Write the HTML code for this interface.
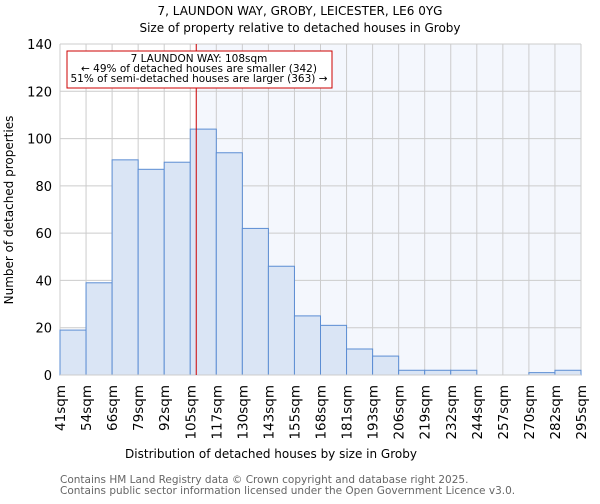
<!DOCTYPE html>
<html><head><meta charset="utf-8"><style>
body{margin:0;background:#fff;font-family:"DejaVu Sans","Liberation Sans",sans-serif}
</style></head><body>
<svg id="c" width="600" height="500" xmlns="http://www.w3.org/2000/svg" font-family="DejaVu Sans, Liberation Sans, sans-serif">
<text x="300" y="15" text-anchor="middle" font-size="12">7, LAUNDON WAY, GROBY, LEICESTER, LE6 0YG</text>
<text x="300" y="32" text-anchor="middle" font-size="12">Size of property relative to detached houses in Groby</text>
<g id="plot"></g>
<text x="271" y="458" text-anchor="middle" font-size="12">Distribution of detached houses by size in Groby</text>
<text transform="translate(13,210) rotate(-90)" text-anchor="middle" font-size="12">Number of detached properties</text>
<text x="60" y="483" font-size="10.5" fill="#666">Contains HM Land Registry data © Crown copyright and database right 2025.</text>
<text x="60" y="494" font-size="10.5" fill="#666">Contains public sector information licensed under the Open Government Licence v3.0.</text>
</svg>
<script>
const binLabels=["41sqm","54sqm","66sqm","79sqm","92sqm","105sqm","117sqm","130sqm","143sqm","155sqm","168sqm","181sqm","193sqm","206sqm","219sqm","232sqm","244sqm","257sqm","270sqm","282sqm","295sqm"];
const counts=[19,39,91,87,90,104,94,62,46,25,21,11,8,2,2,2,0,0,1,2];
const yTicks=[0,20,40,60,80,100,120,140];
const subjectBin=5.23;
const NS="http://www.w3.org/2000/svg";
const g=document.getElementById('plot');
const x0=60,x1=581,y0=375,y1=44,yMax=140;
const bw=(x1-x0)/counts.length;
const X=i=>x0+i*bw, Y=v=>y0-(v/yMax)*(y0-y1);
function mk(t,a){const e=document.createElementNS(NS,t);for(const k in a)e.setAttribute(k,a[k]);g.appendChild(e);return e;}
const lx=X(subjectBin);
let e=mk('rect',{x:lx,y:y1,width:x1-lx,height:y0-y1,fill:'#f4f7fd'});


yTicks.forEach(v=>{let l=mk('line',{x1:x0,x2:x1,y1:Y(v),y2:Y(v),stroke:'#ccc'});


let t=mk('text',{x:x0-8,y:Y(v)+5,'text-anchor':'end','font-size':'13'});t.textContent=v;

});
binLabels.forEach((s,i)=>{let l=mk('line',{x1:X(i),x2:X(i),y1:y1,y2:y0,stroke:'#ccc'});


let t=mk('text',{transform:`translate(${X(i)+5},${y0+10}) rotate(-90)`,'text-anchor':'end','font-size':'13.5'});t.textContent=s;

});
counts.forEach((v,i)=>{let r=mk('rect',{x:X(i),y:Y(v),width:bw,height:y0-Y(v),fill:'#dae5f5',stroke:'#5b8dd3','stroke-width':1});

});
e=mk('line',{x1:x0,x2:x1,y1:y0,y2:y0,stroke:'#ccc'});


e=mk('line',{x1:lx,x2:lx,y1:y1,y2:y0,stroke:'#c00','stroke-width':1});


e=mk('rect',{x:67,y:51,width:265,height:37,fill:'#fff',stroke:'#c00'});


["7 LAUNDON WAY: 108sqm","← 49% of detached houses are smaller (342)","51% of semi-detached houses are larger (363) →"].forEach((s,i)=>{let t=mk('text',{x:199,y:62+i*10,'text-anchor':'middle','font-size':'10.5'});t.textContent=s;

});
</script>
</body></html>
